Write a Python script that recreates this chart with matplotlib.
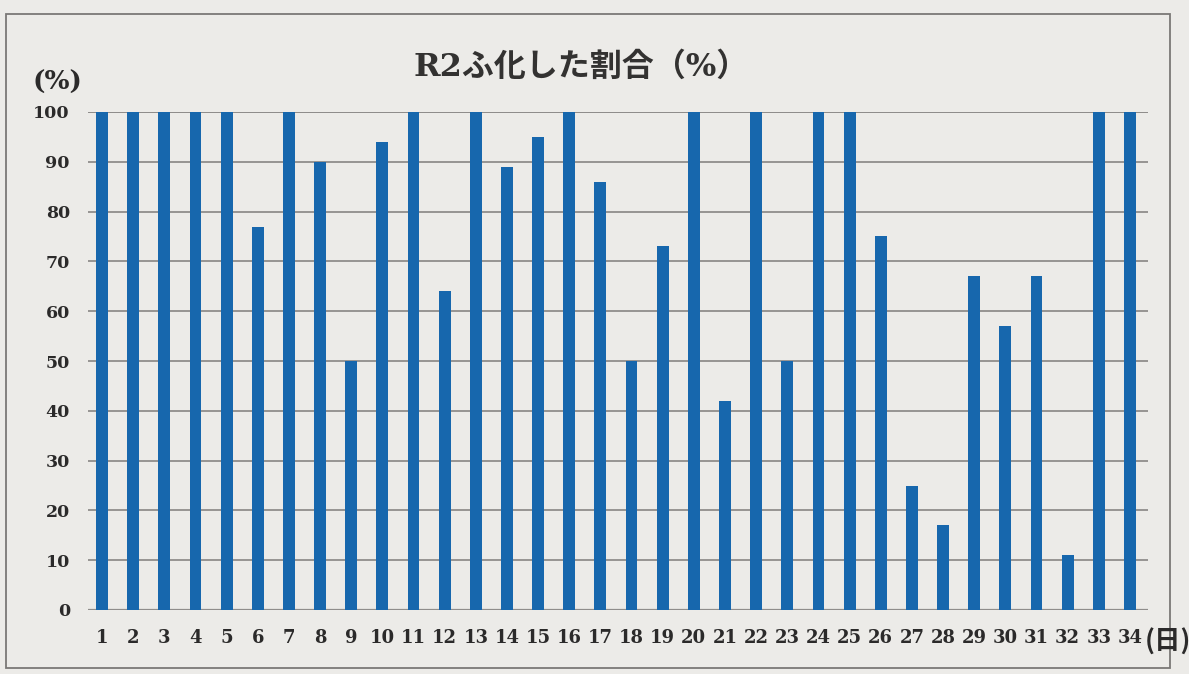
import matplotlib
matplotlib.use("Agg")
import matplotlib.pyplot as plt
from matplotlib.patches import Rectangle

# Hatch rate per day (%)
days = list(range(1, 35))
rates = [100, 100, 100, 100, 100, 77, 100, 90, 50, 94,
         100, 64, 100, 89, 95, 100, 86, 50, 73, 100,
         42, 100, 50, 100, 100, 75, 25, 17, 67, 57,
         67, 11, 100, 100]
y_ticks = list(range(0, 101, 10))

title = "R2ふ化した割合（%）"
y_unit = "(%)"
x_unit = "(日)"

paper = "#ecebe8"
bar_color = "#1767ad"
grid_color = "#8f8d8b"
ink = "#2b2a2a"

W, H = 1189, 674
fig = plt.figure(figsize=(W / 100, H / 100), dpi=100, facecolor=paper)

# outer chart frame
fig.patches.append(Rectangle((6 / W, 1 - 668 / H), (1170 - 6) / W, (668 - 14) / H,
                             transform=fig.transFigure, fill=False,
                             edgecolor="#7a7876", linewidth=1.3))

ax = fig.add_axes([88 / W, 1 - 610 / H, (1148 - 88) / W, (610 - 112) / H])
ax.set_facecolor(paper)

ax.bar(days, rates, width=0.38, color=bar_color, zorder=3)

ax.set_ylim(0, 100)
ax.set_xlim(0.55, 34.58)
ax.set_yticks(y_ticks)
ax.set_xticks(days)
ax.set_xticklabels([str(d) for d in days])
ax.yaxis.grid(True, color=grid_color, linewidth=1.3, zorder=0)
ax.xaxis.grid(False)
for s in ax.spines.values():
    s.set_visible(False)
ax.axhline(0, color=grid_color, linewidth=1.6, zorder=2)
ax.axhline(100, color=grid_color, linewidth=1.3, zorder=2)

ax.tick_params(axis="both", length=0, labelcolor=ink)
ax.tick_params(axis="y", pad=13)
ax.tick_params(axis="x", pad=14)
for lab in ax.get_xticklabels() + ax.get_yticklabels():
    lab.set_fontfamily("DejaVu Serif")
    lab.set_fontweight("bold")
    lab.set_fontsize(12.5)
for lab in ax.get_xticklabels():
    lab.set_fontsize(13)

fig.text(581 / W, 1 - 67 / H, title, ha="center", va="center",
         family=["DejaVu Serif", "Noto Sans CJK JP"], fontweight="bold",
         fontsize=23, color="#333231")
fig.text(57 / W, 1 - 82 / H, y_unit, ha="center", va="center",
         family=["DejaVu Serif"], fontweight="bold", fontsize=19, color=ink)
fig.text(1168 / W, 1 - 642 / H, x_unit, ha="center", va="center",
         family=["Noto Sans CJK JP", "DejaVu Sans"], fontweight="bold",
         fontsize=19, color=ink)

fig.savefig("out.png", dpi=100, facecolor=paper)
